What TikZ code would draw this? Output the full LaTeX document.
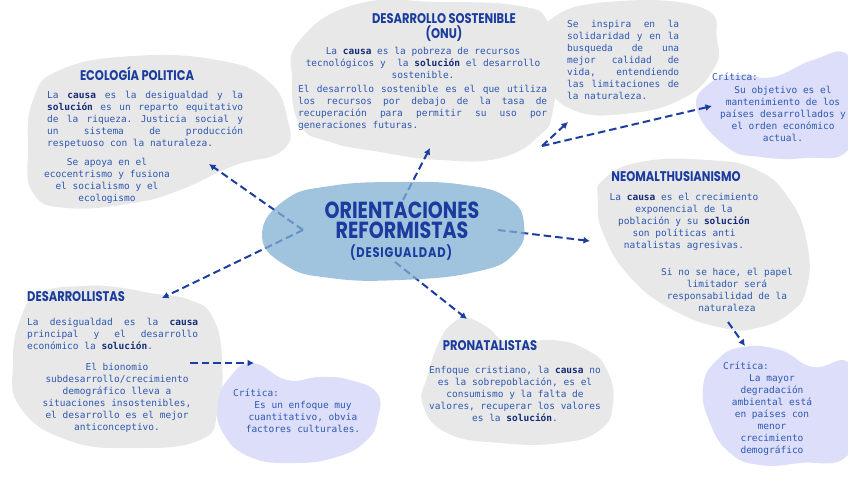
\documentclass[tikz,border=0pt]{standalone}
\usepackage{fontspec}
\newfontfamily\headfont{Poppins}[FakeStretch=0.82]
\newfontfamily\bodyfont{DejaVu Sans Mono}
\usetikzlibrary{arrows.meta}

\definecolor{blobgray}{RGB}{232,232,232}
\definecolor{bloblav}{RGB}{221,222,250}
\definecolor{hubblue}{RGB}{128,176,211}
\definecolor{headblue}{RGB}{27,60,158}
\definecolor{textblue}{RGB}{46,88,178}
\definecolor{kwblue}{RGB}{22,44,120}
\definecolor{arrowblue}{RGB}{28,62,160}

\newcommand{\bodyset}{\bodyfont\fontsize{9.5}{12}\selectfont\frenchspacing
  \spaceskip=\fontdimen2\font plus 10em\relax}
\newcommand{\kw}[1]{{\bfseries\color{kwblue}#1}}

\begin{document}
\begin{tikzpicture}[
  x=1pt, y=-1pt,
  ttl/.style={font=\headfont\bfseries\fontsize{14}{15}\selectfont,
    text=headblue, inner sep=0pt, align=center},
  hubttl/.style={ttl, font=\headfont\bfseries\fontsize{23.3}{20}\selectfont},
  jtext/.style={font=\bodyset, text=textblue, align=justify, inner sep=0pt,
    anchor=north west},
  ctext/.style={font=\bodyset, text=textblue, align=center, inner sep=0pt,
    anchor=north},
  ltext/.style={font=\bodyset, text=textblue, inner sep=0pt, anchor=north west},
  gblob/.style={fill=blobgray},
  lblob/.style={fill=bloblav},
  arr/.style={-{Latex[length=6.5pt,width=7pt]}, draw=arrowblue,
    line width=2pt, dash pattern=on 7.5pt off 4pt}
]
\useasboundingbox (0,0) rectangle (848,477);

\path[gblob] plot[smooth cycle, tension=0.8] coordinates {(60,70) (133,56)
  (217,60) (267,80) (287,117) (283,150) (233,166) (180,190) (133,203)
  (67,208) (33,193) (28,150) (33,100)};
\path[gblob] plot[smooth cycle, tension=0.8] coordinates {(300,40) (357,4)
  (440,2) (520,6) (548,22) (556,60) (553,110) (540,135) (500,158) (440,160)
  (380,152) (330,142) (300,125) (292,80)};
\path[gblob] plot[smooth cycle, tension=0.8] coordinates {(550,20) (607,2)
  (700,7) (717,40) (713,70) (680,100) (623,114) (573,110) (547,83) (545,50)};
\path[gblob] plot[smooth cycle, tension=0.8] coordinates {(603,180) (640,162)
  (707,160) (757,170) (790,200) (807,243) (807,287) (790,313) (757,328)
  (723,328) (673,310) (630,277) (603,233) (598,200)};
\path[gblob] plot[smooth cycle, tension=0.8] coordinates {(40,293) (83,286)
  (115,287) (150,293) (190,300) (213,318) (222,360) (218,410) (200,440)
  (133,448) (67,440) (20,407) (13,363) (20,320)};
\path[gblob] plot[smooth cycle, tension=0.8] coordinates {(453,323) (467,318)
  (487,327) (510,343) (553,340) (587,350) (607,370) (613,403) (600,430)
  (560,443) (500,443) (447,433) (423,405) (427,377) (440,340)};

\path[lblob] plot[smooth cycle, tension=0.8] coordinates {(697,110) (710,83)
  (740,75) (773,77) (813,60) (848,55) (860,100) (848,150) (807,158)
  (760,157) (727,147)};
\path[lblob] plot[smooth cycle, tension=0.8] coordinates {(717,360) (743,347)
  (780,350) (813,367) (848,362) (860,400) (848,455) (800,463) (760,465)
  (730,453) (710,423) (703,387)};
\path[lblob] plot[smooth cycle, tension=0.8] coordinates {(230,377) (253,363)
  (287,380) (320,377) (350,380) (377,393) (378,417) (367,440) (337,457)
  (293,463) (250,457) (223,433) (218,403)};

\coordinate (hubW) at (303,230);
\coordinate (hubN) at (403,200);
\coordinate (hubE) at (498,230);
\coordinate (hubSE) at (395,262);
\coordinate (ecoTip) at (209,164);
\coordinate (desTip) at (162,298);
\coordinate (sosTip) at (430,148);
\coordinate (neoTip) at (590,241);
\coordinate (proTip) at (467,319);
\coordinate (sosOut) at (542,146);
\coordinate (insTip) at (568,122);
\coordinate (critTip) at (712,106);
\coordinate (desOut) at (190,363);
\coordinate (desCritTip) at (254,363);
\coordinate (neoOut) at (728,322);
\coordinate (neoCritTip) at (745,346);

\draw[arr] (hubW) -- (ecoTip);
\draw[arr] (hubW) -- (desTip);
\draw[arr] (hubN) -- (sosTip);
\draw[arr] (hubE) -- (neoTip);
\draw[arr] (hubSE) -- (proTip);
\draw[arr] (sosOut) -- (insTip);
\draw[arr] (sosOut) -- (critTip);
\draw[arr] (desOut) -- (desCritTip);
\draw[arr] (neoOut) -- (neoCritTip);

\path[fill=hubblue, fill opacity=0.75] plot[smooth cycle, tension=0.8]
  coordinates {(262,235) (285,200) (330,186) (400,182) (465,185) (508,198)
  (524,224) (514,254) (475,272) (400,280) (330,278) (285,265)};

\node[hubttl] (hubT) at (402,210) {ORIENTACIONES};
\node[hubttl] (hubR) at (402,230) {REFORMISTAS};
\node[ttl, font=\headfont\bfseries\fontsize{14}{15}\selectfont\addfontfeature{LetterSpace=6}]
  (hubSub) at (401,253) {(DESIGUALDAD)};

\node[ttl] (ecoT) at (137,74) {ECOLOGÍA POLITICA};
\node[jtext, text width=196pt] (ecoP) at (47,91) {La \kw{causa} es la
  desigualdad y la\linebreak \kw{solución} es un reparto equitativo\linebreak
  de la riqueza. Justicia social y\linebreak un sistema de
  producción\linebreak respetuoso con la naturaleza.};
\node[ctext] (ecoS) at (107,158) {Se apoya en el\\ecocentrismo y
  fusiona\\el socialismo y el\\ecologismo};

\node[ttl] (sosT) at (444,27) {DESARROLLO SOSTENIBLE\\(ONU)};
\node[ctext] (sosP) at (423,47) {La \kw{causa} es la pobreza de
  recursos\\tecnológicos y~ la \kw{solución} el desarrollo\\sostenible.};
\node[jtext, text width=249pt] (sosD) at (298,85) {El desarrollo sostenible
  es el que utiliza\linebreak los recursos por debajo de la tasa
  de\linebreak recuperación para permitir su uso por\linebreak generaciones
  futuras.};

\node[jtext, text width=112pt] (insP) at (567,20) {Se inspira en
  la\linebreak solidaridad y en la\linebreak busqueda de una\linebreak mejor
  calidad de\linebreak vida, entendiendo\linebreak las limitaciones
  de\linebreak la naturaleza.};

\node[ltext] (critL) at (712,73) {Crítica:};
\node[ctext] (critP) at (783,86) {Su objetivo es el\\mantenimiento de
  los\\países desarrollados y\\el orden económico\\actual.};

\node[ttl] (neoT) at (676,177) {NEOMALTHUSIANISMO};
\node[ctext] (neoP) at (684,193) {La \kw{causa} es el crecimiento\\exponencial
  de la\\población y su \kw{solución}\\son políticas anti\\natalistas
  agresivas.};
\node[ctext] (neoS) at (727,268) {Si no se hace, el papel\\limitador
  será\\responsabilidad de la\\naturaleza};

\node[ltext] (neoCritL) at (723,362) {Crítica:};
\node[ctext] (neoCritP) at (772,374) {La mayor\\degradación\\ambiental
  está\\en países con\\menor\\crecimiento\\demográfico};

\node[ttl, anchor=west] (desT) at (27,297) {DESARROLLISTAS};
\node[jtext, text width=171pt] (desP) at (27,318) {La desigualdad es la
  \kw{causa}\linebreak principal y el desarrollo\linebreak económico la
  \kw{solución}.};
\node[ctext] (desS) at (117,363) {El bionomio\\subdesarrollo/crecimiento\\demográfico
  lleva a\\situaciones insostenibles,\\el desarrollo es el
  mejor\\anticonceptivo.};

\node[ltext] (desCritL) at (233,389) {Crítica:};
\node[ctext] (desCritP) at (303,401) {Es un enfoque muy\\cuantitativo,
  obvia\\factores culturales.};

\node[ttl] (proT) at (490,346) {PRONATALISTAS};
\node[ctext] (proP) at (515,366) {Enfoque cristiano, la \kw{causa} no\\es la
  sobrepoblación, es el\\consumismo y la falta de\\valores, recuperar los
  valores\\es la \kw{solución}.};
\end{tikzpicture}
\end{document}
